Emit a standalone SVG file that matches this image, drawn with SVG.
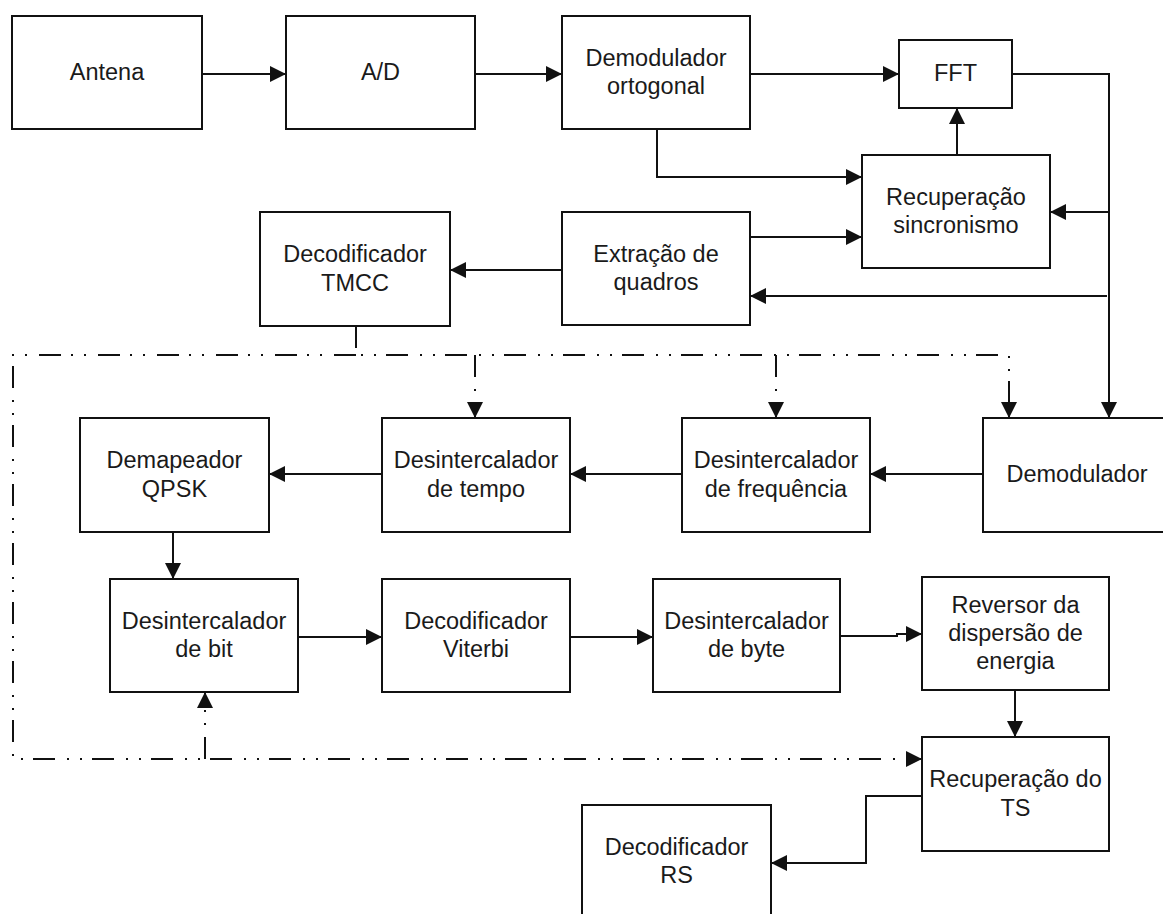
<svg xmlns="http://www.w3.org/2000/svg" width="1163" height="914" viewBox="0 0 1163 914">
<style>
.box{fill:#fff;stroke:#111;stroke-width:2}
.t{font-family:"Liberation Sans",Arial,sans-serif;font-size:23.5px;fill:#1a1a1a;text-anchor:middle}
.ln{fill:none;stroke:#111;stroke-width:2}
.dd{fill:none;stroke:#111;stroke-width:2;stroke-dasharray:22 12 2 11 2 10}
</style>
<defs>
<marker id="arr" viewBox="0 0 16 16" refX="16" refY="8" markerWidth="16" markerHeight="16" markerUnits="userSpaceOnUse" orient="auto">
<path d="M0,0 L16,8 L0,16 z" fill="#111"/>
</marker>
</defs>
<rect width="1163" height="914" fill="#fff"/>
<g id="connectors">
<path class="ln" d="M202,74 H286" marker-end="url(#arr)"/>
<path class="ln" d="M475,74 H562" marker-end="url(#arr)"/>
<path class="ln" d="M750,74 H899" marker-end="url(#arr)"/>
<path class="ln" d="M1012,74 H1109 V418" marker-end="url(#arr)"/>
<path class="ln" d="M1109,212 H1050" marker-end="url(#arr)"/>
<path class="ln" d="M1107,296 H750" marker-end="url(#arr)"/>
<path class="ln" d="M957,155 V108" marker-end="url(#arr)"/>
<path class="ln" d="M657,129 V177 H862" marker-end="url(#arr)"/>
<path class="ln" d="M750,237 H862" marker-end="url(#arr)"/>
<path class="ln" d="M562,270 H450" marker-end="url(#arr)"/>
<path class="ln" d="M983,474 H870" marker-end="url(#arr)"/>
<path class="ln" d="M682,474 H570" marker-end="url(#arr)"/>
<path class="ln" d="M382,474 H269" marker-end="url(#arr)"/>
<path class="ln" d="M173,532 V579" marker-end="url(#arr)"/>
<path class="ln" d="M298,637 H382" marker-end="url(#arr)"/>
<path class="ln" d="M570,637 H653" marker-end="url(#arr)"/>
<path class="ln" d="M840,636 H897 V634 H922" marker-end="url(#arr)"/>
<path class="ln" d="M1015,690 V737" marker-end="url(#arr)"/>
<path class="ln" d="M922,796 H866 V863 H771" marker-end="url(#arr)"/>
<path class="dd" d="M356,326 V355 H1009 V418" marker-end="url(#arr)"/>
<path class="dd" d="M475,355 V418" marker-end="url(#arr)"/>
<path class="dd" d="M776,355 V418" marker-end="url(#arr)"/>
<path class="dd" d="M356,355 H13 V759 H922" marker-end="url(#arr)"/>
<path class="dd" d="M205,759 V692" marker-end="url(#arr)"/>
</g>
<g id="antena"><rect class="box" x="12" y="16" width="190" height="113"/><text class="t" x="107" y="79.5">Antena</text></g>
<g id="ad"><rect class="box" x="286" y="16" width="189" height="113"/><text class="t" x="380.5" y="79.5">A/D</text></g>
<g id="demod_ortogonal"><rect class="box" x="562" y="16" width="188" height="113"/><text class="t" x="656" y="65.5">Demodulador</text><text class="t" x="656" y="94">ortogonal</text></g>
<g id="fft"><rect class="box" x="899" y="40" width="113" height="68"/><text class="t" x="955.5" y="81">FFT</text></g>
<g id="rec_sinc"><rect class="box" x="862" y="155" width="188" height="113"/><text class="t" x="956" y="204.5">Recuperação</text><text class="t" x="956" y="233">sincronismo</text></g>
<g id="extracao"><rect class="box" x="562" y="212" width="188" height="113"/><text class="t" x="656" y="261.5">Extração de</text><text class="t" x="656" y="290">quadros</text></g>
<g id="tmcc"><rect class="box" x="260" y="212" width="190" height="114"/><text class="t" x="355" y="262">Decodificador</text><text class="t" x="355" y="290.5">TMCC</text></g>
<g id="qpsk"><rect class="box" x="80" y="418" width="189" height="114"/><text class="t" x="174.5" y="468">Demapeador</text><text class="t" x="174.5" y="496.5">QPSK</text></g>
<g id="desint_tempo"><rect class="box" x="382" y="418" width="188" height="114"/><text class="t" x="476" y="468">Desintercalador</text><text class="t" x="476" y="496.5">de tempo</text></g>
<g id="desint_freq"><rect class="box" x="682" y="418" width="188" height="114"/><text class="t" x="776" y="468">Desintercalador</text><text class="t" x="776" y="496.5">de frequência</text></g>
<g id="demodulador"><rect class="box" x="983" y="418" width="188" height="114"/><text class="t" x="1077" y="482">Demodulador</text></g>
<g id="desint_bit"><rect class="box" x="110" y="579" width="188" height="113"/><text class="t" x="204" y="628.5">Desintercalador</text><text class="t" x="204" y="657">de bit</text></g>
<g id="viterbi"><rect class="box" x="382" y="579" width="188" height="113"/><text class="t" x="476" y="628.5">Decodificador</text><text class="t" x="476" y="657">Viterbi</text></g>
<g id="desint_byte"><rect class="box" x="653" y="579" width="187" height="113"/><text class="t" x="746.5" y="628.5">Desintercalador</text><text class="t" x="746.5" y="657">de byte</text></g>
<g id="reversor"><rect class="box" x="922" y="577" width="187" height="113"/><text class="t" x="1015.5" y="612.5">Reversor da</text><text class="t" x="1015.5" y="640.5">dispersão de</text><text class="t" x="1015.5" y="668.5">energia</text></g>
<g id="rec_ts"><rect class="box" x="922" y="737" width="187" height="114"/><text class="t" x="1015.5" y="787">Recuperação do</text><text class="t" x="1015.5" y="815.5">TS</text></g>
<g id="dec_rs"><rect class="box" x="582" y="805" width="189" height="113"/><text class="t" x="676.5" y="854.5">Decodificador</text><text class="t" x="676.5" y="883">RS</text></g>
</svg>
